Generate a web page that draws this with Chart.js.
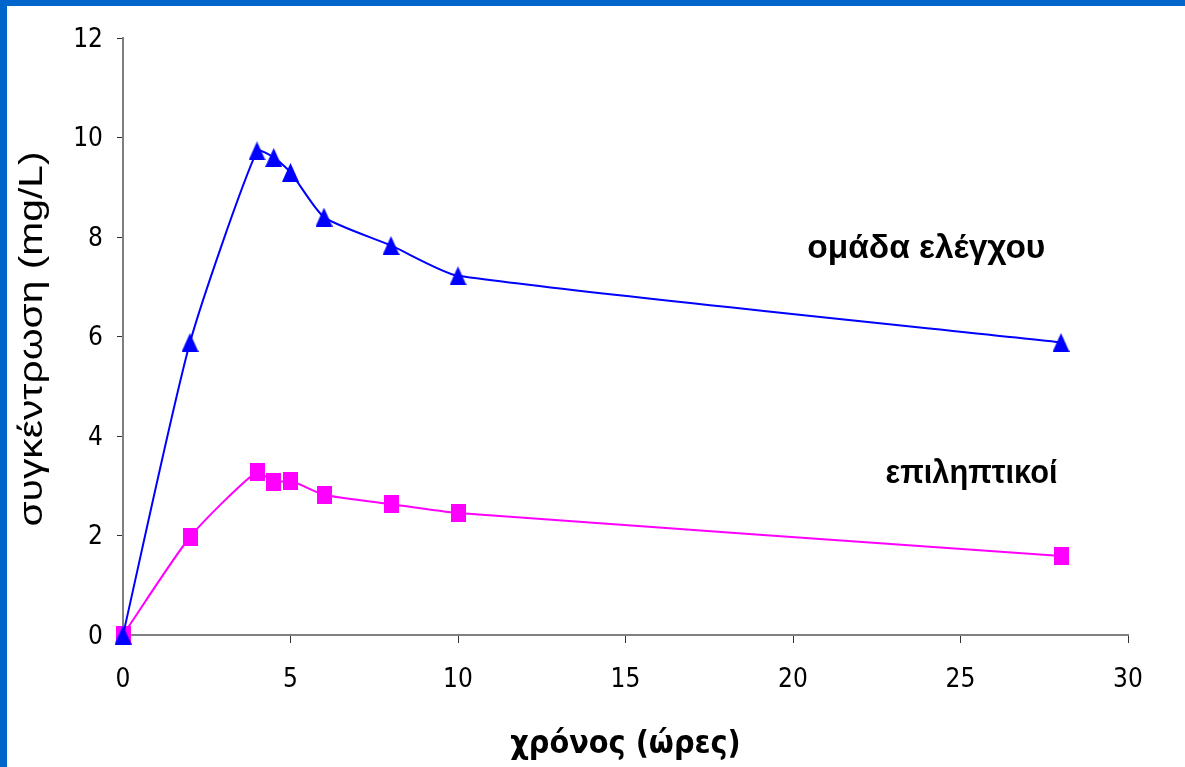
<!DOCTYPE html>
<html>
<head>
<meta charset="utf-8">
<script src="https://cdn.jsdelivr.net/npm/chart.js@4/dist/chart.umd.min.js"></script>
<style>
    html, body { margin: 0; padding: 0; background: #fff; overflow: hidden; }
    #frame {
        position: absolute; left: 0; top: 0;
        width: 1178px; height: 761px;
        border-left: 7px solid #0066cc;
        border-top: 6px solid #0066cc;
        background: #fff;
    }
</style>
</head>
<body>
<div id="frame"><canvas id="concChart" width="1178" height="761"></canvas></div>
<script>
// time after dose (hours)
const hours = [0, 2, 4, 4.5, 5, 6, 8, 10, 28];
// concentration (mg/L)
const controlGroup = [0, 5.88, 9.73, 9.6, 9.3, 8.4, 7.83, 7.22, 5.88];
const epilepticGroup = [0, 1.97, 3.28, 3.07, 3.1, 2.82, 2.63, 2.45, 1.59];

const xTicks = [0, 5, 10, 15, 20, 25, 30];
const yTicks = [0, 2, 4, 6, 8, 10, 12];

const yTitle = 'συγκέντρωση (mg/L)';
const xTitle = 'χρόνος (ώρες)';

const toPoints = values => hours.map((h, i) => ({ x: h, y: values[i] }));

// the original markers are a little taller than wide, so draw them ourselves
function makeMarker(kind, w, h, color) {
    const c = document.createElement('canvas');
    c.width = w;
    c.height = h;
    const g = c.getContext('2d');
    g.fillStyle = color;
    if (kind === 'triangle') {
        g.beginPath();
        g.moveTo(w / 2, 0);
        g.lineTo(w, h);
        g.lineTo(0, h);
        g.closePath();
        g.fill();
    } else {
        g.fillRect(0, 0, w, h);
    }
    return c;
}

const triangleMarker = makeMarker('triangle', 17, 19, '#0000ff');
const squareMarker = makeMarker('square', 15, 18, '#ff00ff');

function stretchedText(ctx, text, x, y, sx, angle) {
    ctx.save();
    ctx.translate(x, y);
    if (angle) ctx.rotate(angle);
    ctx.scale(sx, 1);
    ctx.fillText(text, 0, 0);
    ctx.restore();
}

// series labels inside the plot (anchored in data units) and the y title
const seriesLabels = {
    id: 'seriesLabels',
    afterDatasetsDraw(chart) {
        const { ctx, scales: { x, y } } = chart;
        ctx.save();
        ctx.fillStyle = '#000';
        ctx.textAlign = 'center';
        ctx.textBaseline = 'alphabetic';
        ctx.font = 'bold 34px "Liberation Sans", Arial, sans-serif';
        stretchedText(ctx, 'ομάδα ελέγχου', x.getPixelForValue(23.98), y.getPixelForValue(7.58), 0.985);
        stretchedText(ctx, 'επιληπτικοί', x.getPixelForValue(25.33), y.getPixelForValue(3.055), 0.905);

        ctx.font = '34px "Liberation Sans", Arial, sans-serif';
        ctx.textBaseline = 'middle';
        stretchedText(ctx, yTitle, 26, 333, 1.2, -Math.PI / 2);
        ctx.restore();
    }
};

const tickFont = { family: '"DejaVu Sans Condensed", "DejaVu Sans", sans-serif', size: 26 };

const concChart = new Chart(document.getElementById('concChart').getContext('2d'), {
    type: 'line',
    data: {
        datasets: [{
            label: 'ομάδα ελέγχου',
            data: toPoints(controlGroup),
            borderColor: '#0000ff',
            backgroundColor: '#0000ff',
            borderWidth: 2,
            pointStyle: triangleMarker,
            tension: 0.2,
            clip: false,
            fill: false
        }, {
            label: 'επιληπτικοί',
            data: toPoints(epilepticGroup),
            borderColor: '#ff00ff',
            backgroundColor: '#ff00ff',
            borderWidth: 2,
            pointStyle: squareMarker,
            tension: 0.2,
            clip: false,
            fill: false
        }]
    },
    options: {
        responsive: false,
        animation: false,
        devicePixelRatio: 1,
        layout: { padding: { left: 0, top: 32, right: 57, bottom: 0 } },
        plugins: {
            legend: { display: false },
            tooltip: { enabled: false }
        },
        scales: {
            x: {
                type: 'linear',
                min: 0,
                max: 30,
                afterFit: scale => { scale.height = 132; },
                afterBuildTicks: scale => { scale.ticks = xTicks.map(v => ({ value: v })); },
                border: { color: '#808080', width: 2 },
                grid: { drawOnChartArea: false, tickLength: 8, tickColor: '#333', tickWidth: 1 },
                ticks: { font: tickFont, color: '#000', padding: 22, maxRotation: 0 },
                title: {
                    display: true,
                    text: xTitle,
                    color: '#000',
                    font: { family: '"DejaVu Sans Condensed", "DejaVu Sans", sans-serif', size: 32, weight: 'bold' },
                    padding: { top: 0, bottom: 3 }
                }
            },
            y: {
                type: 'linear',
                min: 0,
                max: 12,
                afterFit: scale => { scale.width = 116; },
                afterBuildTicks: scale => { scale.ticks = yTicks.map(v => ({ value: v })); },
                border: { color: '#808080', width: 2 },
                grid: { drawOnChartArea: false, tickLength: 6, tickColor: '#333', tickWidth: 1 },
                ticks: { font: tickFont, color: '#000', padding: 14, labelOffset: 2 }
            }
        }
    },
    plugins: [seriesLabels]
});
</script>
</body>
</html>
